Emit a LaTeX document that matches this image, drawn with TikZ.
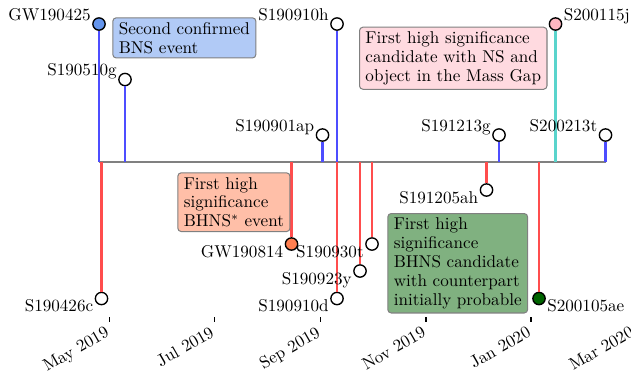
\documentclass[tikz,border=0pt]{standalone}
\usepackage{tikz}
\definecolor{stemblue}{RGB}{77,77,255}
\definecolor{stemred}{RGB}{255,77,77}
\definecolor{stemcyan}{RGB}{90,212,204}
\definecolor{bnsblue}{RGB}{100,149,237}
\definecolor{bhnsorange}{RGB}{255,127,80}
\definecolor{gappink}{RGB}{255,182,193}
\definecolor{cpgreen}{RGB}{0,100,0}
\tikzset{
  evdot/.style={circle, draw=black, line width=0.8pt, minimum size=7.2pt, inner sep=0pt, fill=white},
  stemline/.style={line width=1.2pt},
  evname/.style={inner sep=0pt},
  upleft/.style={anchor=base east, shift={(-8,-4)}},
  upright/.style={anchor=base west, shift={(8,-4)}},
  downleft/.style={anchor=base east, shift={(-8,13)}},
  downright/.style={anchor=base west, shift={(8,13)}},
  infobox/.style={draw=gray, line width=0.6pt, rounded corners=2pt, align=left, anchor=north west,
    inner xsep=3.5pt, inner ysep=2.6pt, font=\fontsize{10}{11}\selectfont},
}
\begin{document}
\begin{tikzpicture}[x=0.585pt,y=-0.585pt]
            \useasboundingbox (0,0) rectangle (631,378);
            \coordinate (axisstart) at (99,162);
            \coordinate (axisend) at (606,162);
            \draw[gray, line width=1.2pt] (axisstart) -- (axisend);
            \foreach \x/\y/\sc/\fc/\name/\pos [count=\i] in {
                99/24/stemblue/bnsblue/GW190425/upleft,
                101.5/298.5/stemred/white/S190426c/downleft,
                125/79.5/stemblue/white/S190510g/upleft,
                291.5/244/stemred/bhnsorange/GW190814/downleft,
                322.5/135/stemblue/white/S190901ap/upleft,
                337/24/stemblue/white/S190910h/upleft,
                337/298.5/stemred/white/S190910d/downleft,
                360/271/stemred/white/S190923y/downleft,
                372/244/stemred/white/S190930t/downleft,
                486.5/190/stemred/white/S191205ah/downleft,
                499/135/stemblue/white/S191213g/upleft,
                539/298.5/stemred/cpgreen/S200105ae/downright,
                555.5/24/stemcyan/gappink/S200115j/upright,
                605.5/135/stemblue/white/S200213t/upleft}{
              \coordinate (foot\i) at (\x,162);
              \node[evdot, fill=\fc] (dot\i) at (\x,\y) {};
              \draw[stemline, \sc] (foot\i) -- (dot\i);
              \node[evname, \pos] (name\i) at (dot\i.center) {\name};
            }
            \node[infobox, fill=bnsblue!50] (bnsbox) at (112.3,17.3) {Second confirmed\\BNS event};
            \node[infobox, fill=gappink!50] (gapbox) at (359,26.7) {First high significance\\candidate with NS and\\object in the Mass Gap};
            \node[infobox, fill=bhnsorange!50] (bhnsbox) at (177.3,172.3) {First high\\significance\\BHNS$^*$ event};
            \node[infobox, fill=cpgreen!50] (cpbox) at (387.3,213) {First high\\significance\\BHNS candidate\\with counterpart\\initially probable};
            \foreach \x/\m [count=\j] in {109.3/May 2019, 214.3/Jul 2019, 320.3/Sep 2019, 426/Nov 2019, 531/Jan 2020, 634/Mar 2020}{
              \coordinate (ticktop\j) at (\x,317);
              \coordinate (tickbot\j) at (\x,321.5);
              \draw[line width=0.6pt] (ticktop\j) -- (tickbot\j);
              \node[rotate=30, anchor=north east, inner sep=0pt] (month\j) at (\x-5,325) {\m};
            }
        \end{tikzpicture}
\end{document}
